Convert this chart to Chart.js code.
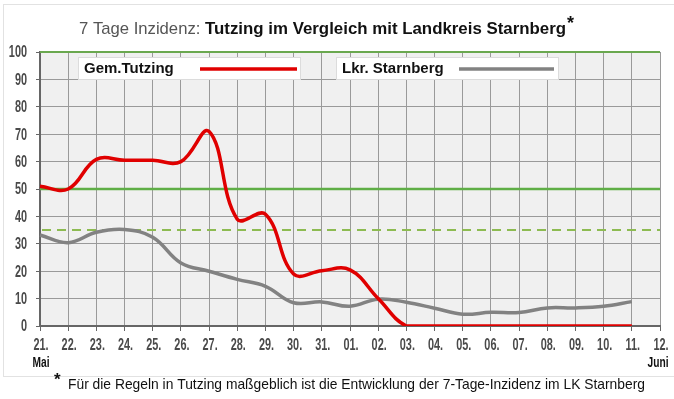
<!DOCTYPE html>
<html>
<head>
<meta charset="utf-8">
<script src="https://cdn.jsdelivr.net/npm/chart.js@4.4.1/dist/chart.umd.min.js"></script>
<style>
  html,body{margin:0;padding:0;background:#fff;}
  #wrap{width:674px;height:399px;position:relative;}
</style>
</head>
<body>
<div id="wrap"><canvas id="c" width="674" height="399"></canvas></div>
<script>
// ---- data ----
const dayLabels = ['21.','22.','23.','24.','25.','26.','27.','28.','29.','30.','31.',
                   '01.','02.','03.','04.','05.','06.','07.','08.','09.','10.','11.','12.'];
const monthLabels = ['Mai','Juni'];
const seriesNames = ['Gem.Tutzing','Lkr. Starnberg'];
const tutzing   = [51,50,60.8,60.5,60.5,60,71,39,40.8,19,20.2,20.5,10,0,0,0,0,0,0,0,0,0];
const starnberg = [33.2,30.4,34.2,35.2,32.4,23,20,17,14.5,8.5,8.8,7.2,9.8,8.7,6.5,4.3,5,4.9,6.6,6.6,7.2,8.9];
const thresholds = [50, 35];
const yTicks = [0,10,20,30,40,50,60,70,80,90,100];
const titleNormal = '7 Tage Inzidenz: ';
const titleBold = 'Tutzing im Vergleich mit Landkreis Starnberg';
const footnote = 'Für die Regeln in Tutzing maßgeblich ist die Entwicklung der 7-Tage-Inzidenz im LK Starnberg';

const SANS = '"Liberation Sans",Arial,Helvetica,sans-serif';
const SQUEEZE = 0.68;

function fitText(ctx, text, x, y, targetW) {
  const w = ctx.measureText(text).width;
  const s = targetW / w;
  ctx.save();
  ctx.translate(x, y);
  ctx.scale(s, 1);
  ctx.fillText(text, 0, 0);
  ctx.restore();
  return w * s;
}
function squeezed(ctx, text, x, y, align) {
  const w = ctx.measureText(text).width * SQUEEZE;
  let left = x;
  if (align === 'center') left = x - w / 2;
  else if (align === 'right') left = x - w;
  ctx.save();
  ctx.translate(left, y);
  ctx.scale(SQUEEZE, 1);
  ctx.textAlign = 'left';
  ctx.fillText(text, 0, 0);
  ctx.restore();
}

const decor = {
  id: 'decor',
  beforeDraw(chart) {
    const ctx = chart.ctx, a = chart.chartArea;
    ctx.save();
    ctx.fillStyle = '#fff';
    ctx.fillRect(0, 0, chart.width, chart.height);
    ctx.strokeStyle = '#e2e2e2';
    ctx.lineWidth = 1;
    ctx.strokeRect(3.5, 4.5, 680, 372);
    ctx.fillStyle = '#f0f0f0';
    ctx.fillRect(a.left, a.top, a.right - a.left, a.bottom - a.top);
    ctx.restore();
  },
  beforeDatasetsDraw(chart) {
    const ctx = chart.ctx, a = chart.chartArea, y = chart.scales.y;
    ctx.save();
    ctx.strokeStyle = '#6aa84f';
    ctx.lineWidth = 2;
    ctx.beginPath();
    ctx.moveTo(a.left, y.getPixelForValue(100));
    ctx.lineTo(a.right, y.getPixelForValue(100));
    ctx.stroke();
    ctx.strokeStyle = '#5fae46';
    ctx.lineWidth = 2.5;
    ctx.beginPath();
    const y1 = y.getPixelForValue(thresholds[0]);
    ctx.moveTo(a.left, y1); ctx.lineTo(a.right, y1);
    ctx.stroke();
    ctx.strokeStyle = '#8dbb52';
    ctx.lineWidth = 2;
    ctx.setLineDash([9, 6]);
    ctx.beginPath();
    const y2 = y.getPixelForValue(thresholds[1]);
    ctx.moveTo(a.left + 2, y2); ctx.lineTo(a.right, y2);
    ctx.stroke();
    ctx.restore();
  },
  afterDatasetsDraw(chart) {
    const ctx = chart.ctx;
    ctx.save();
    const boxes = [
      {x: 78, w: 222, tx: 84, lx1: 200, lx2: 297, color: '#e00000', label: seriesNames[0]},
      {x: 336, w: 222, tx: 342, lx1: 459, lx2: 554, color: '#828282', label: seriesNames[1]}
    ];
    boxes.forEach(b => {
      ctx.fillStyle = '#fff';
      ctx.fillRect(b.x, 57, b.w, 22);
      ctx.strokeStyle = '#dcdcdc';
      ctx.lineWidth = 1;
      ctx.strokeRect(b.x + 0.5, 57.5, b.w, 22);
      ctx.fillStyle = '#111';
      ctx.font = 'bold 15px ' + SANS;
      ctx.textBaseline = 'middle';
      ctx.textAlign = 'left';
      ctx.fillText(b.label, b.tx, 69);
      ctx.strokeStyle = b.color;
      ctx.lineWidth = 3.5;
      ctx.beginPath();
      ctx.moveTo(b.lx1, 69); ctx.lineTo(b.lx2, 69);
      ctx.stroke();
    });
    ctx.restore();
  },
  afterDraw(chart) {
    const ctx = chart.ctx, x = chart.scales.x, y = chart.scales.y;
    ctx.save();
    ctx.font = 'bold 16px ' + SANS;
    ctx.fillStyle = '#4a4a4a';
    ctx.textBaseline = 'middle';
    dayLabels.forEach((t, i) => squeezed(ctx, t, x.getPixelForValue(i) + 1, 346, 'center'));
    yTicks.forEach(v => squeezed(ctx, String(v), 27, y.getPixelForValue(v) + 1, 'right'));
    ctx.textBaseline = 'alphabetic';
    ctx.textAlign = 'left';
    ctx.font = '17px ' + SANS;
    ctx.fillStyle = '#555';
    const w1 = fitText(ctx, titleNormal, 79, 34, 126);
    ctx.font = 'bold 17px ' + SANS;
    ctx.fillStyle = '#111';
    fitText(ctx, titleBold, 79 + w1, 34, 361);
    ctx.font = 'bold 18px ' + SANS;
    ctx.fillText('*', 567, 29);
    ctx.font = 'bold 15px ' + SANS;
    ctx.fillStyle = '#111';
    ctx.textBaseline = 'middle';
    squeezed(ctx, monthLabels[0], x.getPixelForValue(0) + 1, 363, 'center');
    squeezed(ctx, monthLabels[1], x.getPixelForValue(dayLabels.length - 1) - 2, 363, 'center');
    ctx.textAlign = 'left';
    ctx.textBaseline = 'alphabetic';
    ctx.font = 'bold 17px ' + SANS;
    ctx.fillText('*', 54, 385);
    ctx.font = '15px ' + SANS;
    ctx.fillStyle = '#111';
    fitText(ctx, footnote, 68, 389, 577);
    ctx.restore();
  }
};

new Chart(document.getElementById('c'), {
  type: 'line',
  data: {
    labels: dayLabels,
    datasets: [
      {label: seriesNames[0], data: tutzing, borderColor: '#e00000', borderWidth: 3.5,
       pointRadius: 0, tension: 0.4, fill: false},
      {label: seriesNames[1], data: starnberg, borderColor: '#828282', borderWidth: 3.5,
       pointRadius: 0, tension: 0.4, fill: false}
    ]
  },
  options: {
    responsive: false,
    animation: false,
    events: [],
    layout: {padding: {top: 52, right: 14, left: 0, bottom: 0}},
    plugins: {legend: {display: false}, title: {display: false}, tooltip: {enabled: false}},
    scales: {
      x: {
        offset: false,
        grid: {color: '#9a9a9a', lineWidth: 1, drawTicks: true, tickLength: 5, tickColor: '#666'},
        border: {color: '#666', width: 2},
        ticks: {display: false, autoSkip: false, maxRotation: 0, minRotation: 0},
        afterFit(s) { s.height = 73; }
      },
      y: {
        min: 0, max: 100,
        afterBuildTicks(s) { s.ticks = yTicks.map(v => ({value: v})); },
        grid: {color: '#9a9a9a', lineWidth: 1, drawTicks: true, tickLength: 4, tickColor: '#666'},
        border: {color: '#666', width: 2},
        ticks: {display: false},
        afterFit(s) { s.width = 40; }
      }
    }
  },
  plugins: [decor]
});
</script>
</body>
</html>
